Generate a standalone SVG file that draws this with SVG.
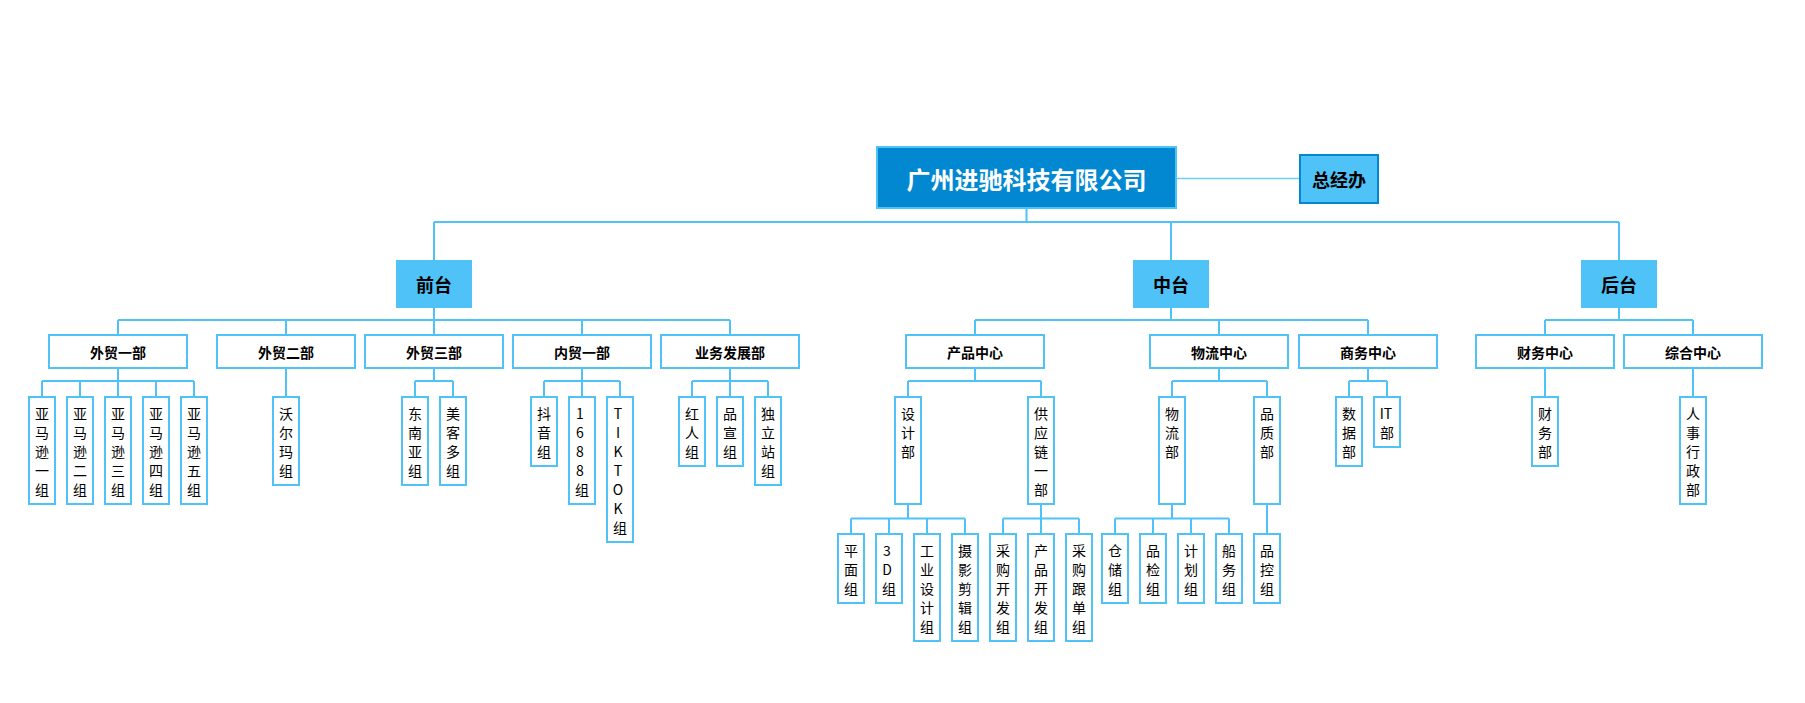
<svg xmlns="http://www.w3.org/2000/svg" width="1805" height="703" viewBox="0 0 1805 703">
<style>
  .box{fill:#ffffff;stroke:#4FC3F7;stroke-width:2}
  .lvl1{fill:#4FC3F7}
  .root{fill:#0288D1;stroke:#4FC3F7;stroke-width:2}
  .office{fill:#4FC3F7;stroke:#0288D1;stroke-width:2}
  .ln{fill:none;stroke:#4FC3F7;stroke-width:2}
  .ln2{fill:none;stroke:#6FCFF8;stroke-width:1.5}
  text{font-family:"Noto Sans CJK SC","Microsoft YaHei",sans-serif;text-anchor:middle;dominant-baseline:central;fill:#000}
  .t0{font-size:24px;font-weight:bold;fill:#ffffff}
  .t1{font-size:18px;font-weight:bold}
  .t2{font-size:14px;font-weight:bold}
  .v{font-size:14px}
</style>
<rect width="1805" height="703" fill="#ffffff"/>
<g id="connectors">
  <path class="ln2" d="M1177 178.5H1299"/>
  <path class="ln" d="M1026.5 209V222M434 222H1619M434 222V260M1171 222V260M1619 222V260"/>
  <path class="ln" d="M434 308V320M118 320H730M118 320V335M286 320V335M434 320V335M582 320V335M730 320V335"/>
  <path class="ln" d="M1171 308V320M975 320H1368M975 320V335M1219 320V335M1368 320V335"/>
  <path class="ln" d="M1619 308V320M1545 320H1693M1545 320V335M1693 320V335"/>
  <path class="ln" d="M118 368V381M42 381H194M42 381V396M80 381V396M118 381V396M156 381V396M194 381V396"/>
  <path class="ln" d="M286 368V396"/>
  <path class="ln" d="M434 368V381M415 381H453M415 381V396M453 381V396"/>
  <path class="ln" d="M582 368V381M544 381H620M544 381V396M582 381V396M620 381V396"/>
  <path class="ln" d="M730 368V381M692 381H768M692 381V396M730 381V396M768 381V396"/>
  <path class="ln" d="M975 368V381M908 381H1041M908 381V396M1041 381V396"/>
  <path class="ln" d="M1219 368V381M1172 381H1267M1172 381V396M1267 381V396"/>
  <path class="ln" d="M1368 368V381M1349 381H1387M1349 381V396M1387 381V396"/>
  <path class="ln" d="M1545 368V396M1693 368V396"/>
  <path class="ln" d="M908 505V518.5M851 518.5H965M851 518.5V533M889 518.5V533M927 518.5V533M965 518.5V533"/>
  <path class="ln" d="M1041 505V518.5M1003 518.5H1079M1003 518.5V533M1041 518.5V533M1079 518.5V533"/>
  <path class="ln" d="M1172 505V518.5M1115 518.5H1229M1115 518.5V533M1153 518.5V533M1191 518.5V533M1229 518.5V533"/>
  <path class="ln" d="M1267 505V533"/>
</g>

<g id="root"><rect class="root" x="877" y="147" width="299" height="61"/><text class="t0" x="1026.5" y="178">广州进驰科技有限公司</text></g>
<g id="office"><rect class="office" x="1300" y="155" width="78" height="48"/><text class="t1" x="1339" y="179">总经办</text></g>

<g id="qiantai"><rect class="lvl1" x="396" y="260" width="76" height="48"/><text class="t1" x="434" y="284">前台</text></g>
<g id="zhongtai"><rect class="lvl1" x="1133" y="260" width="76" height="48"/><text class="t1" x="1171" y="284">中台</text></g>
<g id="houtai"><rect class="lvl1" x="1581" y="260" width="76" height="48"/><text class="t1" x="1619" y="284">后台</text></g>

<g id="waimao1"><rect class="box" x="49" y="335" width="138" height="33"/><text class="t2" x="118" y="351.5">外贸一部</text></g>
<g id="waimao2"><rect class="box" x="217" y="335" width="138" height="33"/><text class="t2" x="286" y="351.5">外贸二部</text></g>
<g id="waimao3"><rect class="box" x="365" y="335" width="138" height="33"/><text class="t2" x="434" y="351.5">外贸三部</text></g>
<g id="neimao1"><rect class="box" x="513" y="335" width="138" height="33"/><text class="t2" x="582" y="351.5">内贸一部</text></g>
<g id="yewu"><rect class="box" x="661" y="335" width="138" height="33"/><text class="t2" x="730" y="351.5">业务发展部</text></g>
<g id="chanpin"><rect class="box" x="906" y="335" width="138" height="33"/><text class="t2" x="975" y="351.5">产品中心</text></g>
<g id="wuliu"><rect class="box" x="1150" y="335" width="138" height="33"/><text class="t2" x="1219" y="351.5">物流中心</text></g>
<g id="shangwu"><rect class="box" x="1299" y="335" width="138" height="33"/><text class="t2" x="1368" y="351.5">商务中心</text></g>
<g id="caiwu"><rect class="box" x="1476" y="335" width="138" height="33"/><text class="t2" x="1545" y="351.5">财务中心</text></g>
<g id="zonghe"><rect class="box" x="1624" y="335" width="138" height="33"/><text class="t2" x="1693" y="351.5">综合中心</text></g>

<g id="amz1"><rect class="box" x="29" y="397" width="26" height="107"/><text class="v" x="42" y="413"><tspan x="42" y="413">亚</tspan><tspan x="42" dy="19">马</tspan><tspan x="42" dy="19">逊</tspan><tspan x="42" dy="19">一</tspan><tspan x="42" dy="19">组</tspan></text></g>
<g id="amz2"><rect class="box" x="67" y="397" width="26" height="107"/><text class="v" x="80" y="413"><tspan x="80" y="413">亚</tspan><tspan x="80" dy="19">马</tspan><tspan x="80" dy="19">逊</tspan><tspan x="80" dy="19">二</tspan><tspan x="80" dy="19">组</tspan></text></g>
<g id="amz3"><rect class="box" x="105" y="397" width="26" height="107"/><text class="v" x="118" y="413"><tspan x="118" y="413">亚</tspan><tspan x="118" dy="19">马</tspan><tspan x="118" dy="19">逊</tspan><tspan x="118" dy="19">三</tspan><tspan x="118" dy="19">组</tspan></text></g>
<g id="amz4"><rect class="box" x="143" y="397" width="26" height="107"/><text class="v" x="156" y="413"><tspan x="156" y="413">亚</tspan><tspan x="156" dy="19">马</tspan><tspan x="156" dy="19">逊</tspan><tspan x="156" dy="19">四</tspan><tspan x="156" dy="19">组</tspan></text></g>
<g id="amz5"><rect class="box" x="181" y="397" width="26" height="107"/><text class="v" x="194" y="413"><tspan x="194" y="413">亚</tspan><tspan x="194" dy="19">马</tspan><tspan x="194" dy="19">逊</tspan><tspan x="194" dy="19">五</tspan><tspan x="194" dy="19">组</tspan></text></g>
<g id="walmart"><rect class="box" x="273" y="397" width="26" height="88"/><text class="v" x="286" y="413"><tspan x="286" y="413">沃</tspan><tspan x="286" dy="19">尔</tspan><tspan x="286" dy="19">玛</tspan><tspan x="286" dy="19">组</tspan></text></g>
<g id="sea"><rect class="box" x="402" y="397" width="26" height="88"/><text class="v" x="415" y="413"><tspan x="415" y="413">东</tspan><tspan x="415" dy="19">南</tspan><tspan x="415" dy="19">亚</tspan><tspan x="415" dy="19">组</tspan></text></g>
<g id="meike"><rect class="box" x="440" y="397" width="26" height="88"/><text class="v" x="453" y="413"><tspan x="453" y="413">美</tspan><tspan x="453" dy="19">客</tspan><tspan x="453" dy="19">多</tspan><tspan x="453" dy="19">组</tspan></text></g>
<g id="douyin"><rect class="box" x="531" y="397" width="26" height="69"/><text class="v" x="544" y="413"><tspan x="544" y="413">抖</tspan><tspan x="544" dy="19">音</tspan><tspan x="544" dy="19">组</tspan></text></g>
<g id="g1688"><rect class="box" x="569" y="397" width="26" height="107"/><text class="v" x="580" y="413"><tspan x="580" y="413">1</tspan><tspan x="580" dy="19">6</tspan><tspan x="580" dy="19">8</tspan><tspan x="580" dy="19">8</tspan><tspan x="582" dy="19">组</tspan></text></g>
<g id="tiktok"><rect class="box" x="607" y="397" width="26" height="145"/><text class="v" x="618" y="413"><tspan x="618" y="413">T</tspan><tspan x="618" dy="19">I</tspan><tspan x="618" dy="19">K</tspan><tspan x="618" dy="19">T</tspan><tspan x="618" dy="19">O</tspan><tspan x="618" dy="19">K</tspan><tspan x="620" dy="19">组</tspan></text></g>
<g id="hongren"><rect class="box" x="679" y="397" width="26" height="69"/><text class="v" x="692" y="413"><tspan x="692" y="413">红</tspan><tspan x="692" dy="19">人</tspan><tspan x="692" dy="19">组</tspan></text></g>
<g id="pinxuan"><rect class="box" x="717" y="397" width="26" height="69"/><text class="v" x="730" y="413"><tspan x="730" y="413">品</tspan><tspan x="730" dy="19">宣</tspan><tspan x="730" dy="19">组</tspan></text></g>
<g id="duli"><rect class="box" x="755" y="397" width="26" height="88"/><text class="v" x="768" y="413"><tspan x="768" y="413">独</tspan><tspan x="768" dy="19">立</tspan><tspan x="768" dy="19">站</tspan><tspan x="768" dy="19">组</tspan></text></g>
<g id="sheji"><rect class="box" x="895" y="397" width="26" height="107"/><text class="v" x="908" y="413"><tspan x="908" y="413">设</tspan><tspan x="908" dy="19">计</tspan><tspan x="908" dy="19">部</tspan></text></g>
<g id="gongying"><rect class="box" x="1028" y="397" width="26" height="107"/><text class="v" x="1041" y="413"><tspan x="1041" y="413">供</tspan><tspan x="1041" dy="19">应</tspan><tspan x="1041" dy="19">链</tspan><tspan x="1041" dy="19">一</tspan><tspan x="1041" dy="19">部</tspan></text></g>
<g id="wuliubu"><rect class="box" x="1159" y="397" width="26" height="107"/><text class="v" x="1172" y="413"><tspan x="1172" y="413">物</tspan><tspan x="1172" dy="19">流</tspan><tspan x="1172" dy="19">部</tspan></text></g>
<g id="pinzhi"><rect class="box" x="1254" y="397" width="26" height="107"/><text class="v" x="1267" y="413"><tspan x="1267" y="413">品</tspan><tspan x="1267" dy="19">质</tspan><tspan x="1267" dy="19">部</tspan></text></g>
<g id="shuju"><rect class="box" x="1336" y="397" width="26" height="69"/><text class="v" x="1349" y="413"><tspan x="1349" y="413">数</tspan><tspan x="1349" dy="19">据</tspan><tspan x="1349" dy="19">部</tspan></text></g>
<g id="itbu"><rect class="box" x="1374" y="397" width="26" height="50"/><text class="v" x="1386" y="413"><tspan x="1386" y="413">IT</tspan><tspan x="1387" dy="19">部</tspan></text></g>
<g id="caiwubu"><rect class="box" x="1532" y="397" width="26" height="69"/><text class="v" x="1545" y="413"><tspan x="1545" y="413">财</tspan><tspan x="1545" dy="19">务</tspan><tspan x="1545" dy="19">部</tspan></text></g>
<g id="renshi"><rect class="box" x="1680" y="397" width="26" height="107"/><text class="v" x="1693" y="413"><tspan x="1693" y="413">人</tspan><tspan x="1693" dy="19">事</tspan><tspan x="1693" dy="19">行</tspan><tspan x="1693" dy="19">政</tspan><tspan x="1693" dy="19">部</tspan></text></g>

<g id="pingmian"><rect class="box" x="838" y="534" width="26" height="69"/><text class="v" x="851" y="550"><tspan x="851" y="550">平</tspan><tspan x="851" dy="19">面</tspan><tspan x="851" dy="19">组</tspan></text></g>
<g id="g3d"><rect class="box" x="876" y="534" width="26" height="69"/><text class="v" x="887" y="550"><tspan x="887" y="550">3</tspan><tspan x="887" dy="19">D</tspan><tspan x="889" dy="19">组</tspan></text></g>
<g id="gongye"><rect class="box" x="914" y="534" width="26" height="107"/><text class="v" x="927" y="550"><tspan x="927" y="550">工</tspan><tspan x="927" dy="19">业</tspan><tspan x="927" dy="19">设</tspan><tspan x="927" dy="19">计</tspan><tspan x="927" dy="19">组</tspan></text></g>
<g id="sheying"><rect class="box" x="952" y="534" width="26" height="107"/><text class="v" x="965" y="550"><tspan x="965" y="550">摄</tspan><tspan x="965" dy="19">影</tspan><tspan x="965" dy="19">剪</tspan><tspan x="965" dy="19">辑</tspan><tspan x="965" dy="19">组</tspan></text></g>
<g id="caigoukf"><rect class="box" x="990" y="534" width="26" height="107"/><text class="v" x="1003" y="550"><tspan x="1003" y="550">采</tspan><tspan x="1003" dy="19">购</tspan><tspan x="1003" dy="19">开</tspan><tspan x="1003" dy="19">发</tspan><tspan x="1003" dy="19">组</tspan></text></g>
<g id="chanpinkf"><rect class="box" x="1028" y="534" width="26" height="107"/><text class="v" x="1041" y="550"><tspan x="1041" y="550">产</tspan><tspan x="1041" dy="19">品</tspan><tspan x="1041" dy="19">开</tspan><tspan x="1041" dy="19">发</tspan><tspan x="1041" dy="19">组</tspan></text></g>
<g id="caigougd"><rect class="box" x="1066" y="534" width="26" height="107"/><text class="v" x="1079" y="550"><tspan x="1079" y="550">采</tspan><tspan x="1079" dy="19">购</tspan><tspan x="1079" dy="19">跟</tspan><tspan x="1079" dy="19">单</tspan><tspan x="1079" dy="19">组</tspan></text></g>
<g id="cangchu"><rect class="box" x="1102" y="534" width="26" height="69"/><text class="v" x="1115" y="550"><tspan x="1115" y="550">仓</tspan><tspan x="1115" dy="19">储</tspan><tspan x="1115" dy="19">组</tspan></text></g>
<g id="pinjian"><rect class="box" x="1140" y="534" width="26" height="69"/><text class="v" x="1153" y="550"><tspan x="1153" y="550">品</tspan><tspan x="1153" dy="19">检</tspan><tspan x="1153" dy="19">组</tspan></text></g>
<g id="jihua"><rect class="box" x="1178" y="534" width="26" height="69"/><text class="v" x="1191" y="550"><tspan x="1191" y="550">计</tspan><tspan x="1191" dy="19">划</tspan><tspan x="1191" dy="19">组</tspan></text></g>
<g id="chuanwu"><rect class="box" x="1216" y="534" width="26" height="69"/><text class="v" x="1229" y="550"><tspan x="1229" y="550">船</tspan><tspan x="1229" dy="19">务</tspan><tspan x="1229" dy="19">组</tspan></text></g>
<g id="pinkong"><rect class="box" x="1254" y="534" width="26" height="69"/><text class="v" x="1267" y="550"><tspan x="1267" y="550">品</tspan><tspan x="1267" dy="19">控</tspan><tspan x="1267" dy="19">组</tspan></text></g>
</svg>
